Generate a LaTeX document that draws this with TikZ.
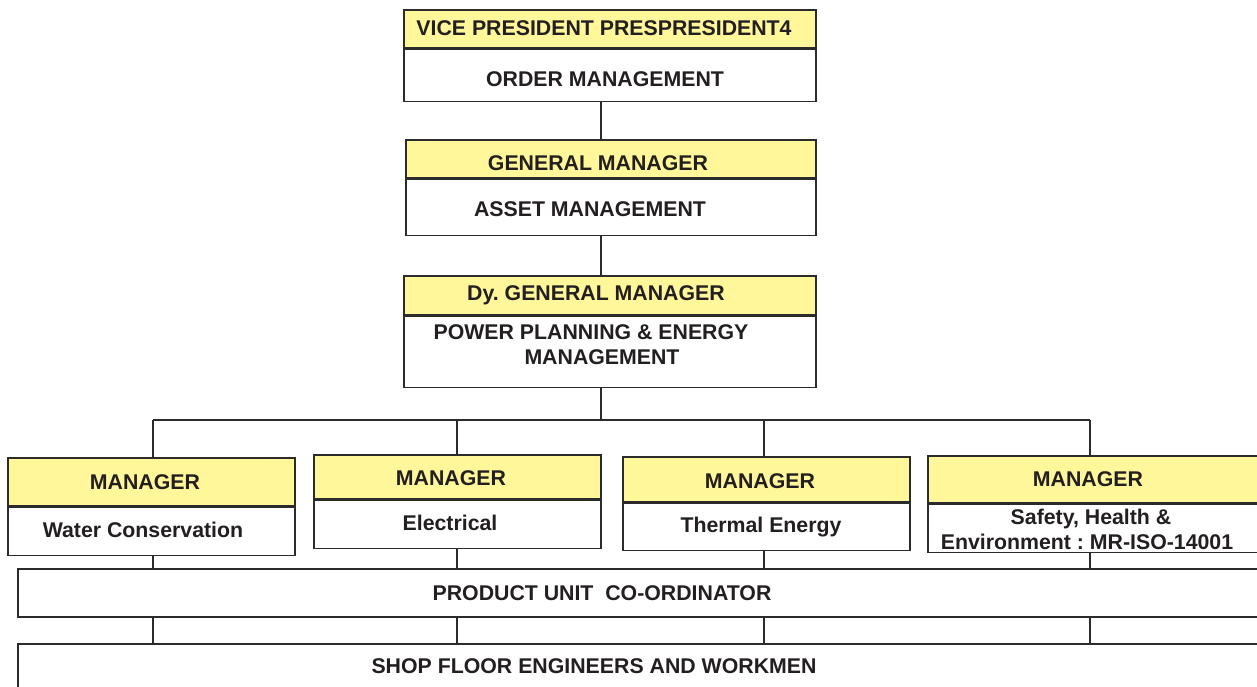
\documentclass[tikz,border=0pt]{standalone}
\usepackage{fontspec}
\setmainfont{Liberation Sans}
\definecolor{hdrfill}{HTML}{FFF799}
\definecolor{ink}{HTML}{231F20}
\definecolor{edge}{HTML}{2B2B2B}
\begin{document}
\frenchspacing
\begin{tikzpicture}[x=1pt,y=-1pt,
  box/.style={draw=edge,line width=1.6pt,rectangle,inner sep=0pt},
  hdr/.style={box,fill=hdrfill},
  body/.style={box,fill=white},
  lbl/.style={inner sep=0pt,text=ink,font=\fontsize{21.3}{25}\selectfont\bfseries\frenchspacing,align=center},
  link/.style={draw=edge,line width=1.4pt}]
\useasboundingbox (0,0) rectangle (1257,686);
\clip (0,0) rectangle (1257,686);
% top chain
\node[hdr,minimum width=412,minimum height=38] (vph) at (610,29) {};
\node[body,minimum width=412,minimum height=52,anchor=north] (vpb) at (vph.south) {};
\node[hdr,minimum width=410,minimum height=38] (gmh) at (611,159) {};
\node[body,minimum width=410,minimum height=56,anchor=north] (gmb) at (gmh.south) {};
\node[hdr,minimum width=412,minimum height=39] (dgh) at (610,295.5) {};
\node[body,minimum width=412,minimum height=71,anchor=north] (dgb) at (dgh.south) {};
% managers
\node[hdr,minimum width=287,minimum height=48] (m1h) at (151.5,482) {};
\node[body,minimum width=287,minimum height=48,anchor=north] (m1b) at (m1h.south) {};
\node[hdr,minimum width=287,minimum height=44] (m2h) at (457.5,477) {};
\node[body,minimum width=287,minimum height=48,anchor=north] (m2b) at (m2h.south) {};
\node[hdr,minimum width=287,minimum height=45] (m3h) at (766.5,479.5) {};
\node[body,minimum width=287,minimum height=47,anchor=north] (m3b) at (m3h.south) {};
\node[hdr,minimum width=340,minimum height=47] (m4h) at (1098,479.5) {};
\node[body,minimum width=340,minimum height=48,anchor=north] (m4b) at (m4h.south) {};
% bottom bars
\node[body,minimum width=1260,minimum height=48,anchor=north west] (pu) at (17,568) {};
\node[body,minimum width=1260,minimum height=60,anchor=north west] (sf) at (17,643) {};
% texts
\node[lbl] (vpt) at (604,28) {VICE PRESIDENT PRESPRESIDENT4};
\node[lbl] (vpbt) at (605,79) {ORDER MANAGEMENT};
\node[lbl] (gmt) at (598,163) {GENERAL MANAGER};
\node[lbl] (gmbt) at (590,209) {ASSET MANAGEMENT};
\node[lbl] (dgt) at (596,295) {Dy.\ GENERAL MANAGER};
\node[lbl] (dgbt) at (591,345) {POWER PLANNING \& ENERGY\\\hspace*{22pt}MANAGEMENT};
\node[lbl] (m1t) at (145,482) {MANAGER};
\node[lbl] (m1bt) at (143,530) {Water Conservation};
\node[lbl] (m2t) at (451,478) {MANAGER};
\node[lbl] (m2bt) at (450,523) {Electrical};
\node[lbl] (m3t) at (760,481) {MANAGER};
\node[lbl] (m3bt) at (761,527) {Thermal Energy};
\node[lbl] (m4t) at (1088,479) {MANAGER};
\node[lbl] (m4bt) at (1087,529) {\hspace*{8pt}Safety, Health \&\\Environment : MR-ISO-14001};
\node[lbl] (put) at (602,593) {PRODUCT UNIT\ \ CO-ORDINATOR};
\node[lbl] (sft) at (594,666) {SHOP FLOOR ENGINEERS AND WORKMEN};
% connectors
\coordinate (bus) at (601,420);
\coordinate (b1) at (153,420);
\coordinate (b2) at (457,420);
\coordinate (b3) at (764,420);
\coordinate (b4) at (1090,420);
\draw[link] (vpb.south -| bus) -- (gmh.north -| bus);
\draw[link] (gmb.south -| bus) -- (dgh.north -| bus);
\draw[link] (dgb.south -| bus) -- (bus);
\draw[link] (b1) -- (b4);
\foreach \i/\b in {1/b1,2/b2,3/b3,4/b4}{
  \draw[link] (\b) -- (\b |- m\i h.north);
  \draw[link] (\b |- m\i b.south) -- (\b |- pu.north);
  \draw[link] (\b |- pu.south) -- (\b |- sf.north);
}
\end{tikzpicture}
\end{document}
